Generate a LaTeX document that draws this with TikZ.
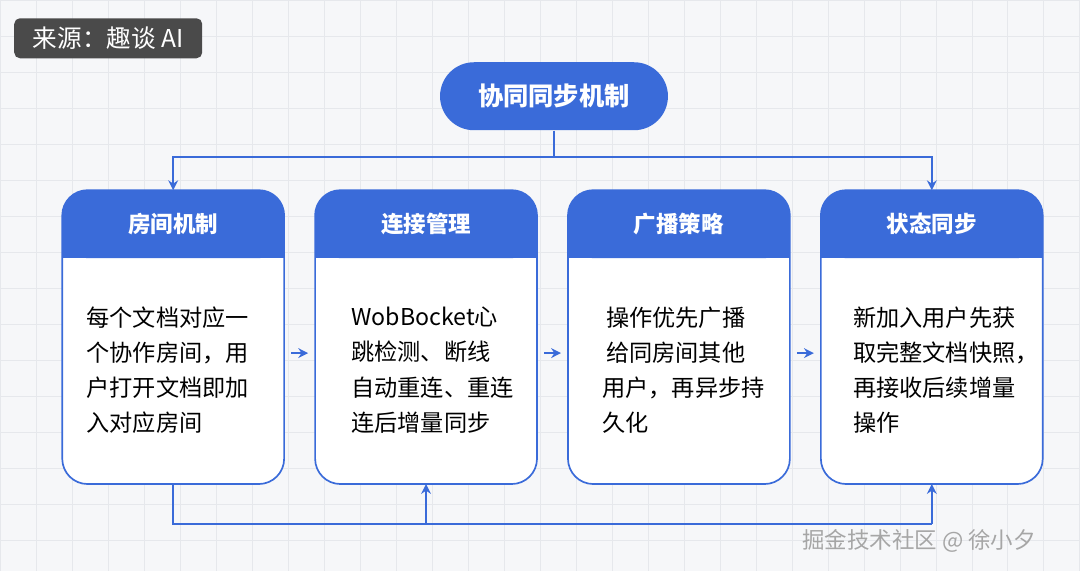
\documentclass[tikz,border=0pt]{standalone}
\usepackage{fontspec}
\setmainfont{Noto Sans CJK SC}
\usetikzlibrary{positioning, arrows.meta, calc}
\definecolor{mainblue}{HTML}{3A6BD9}
\definecolor{gridbg}{HTML}{F6F7F9}
\definecolor{gridline}{HTML}{E6E8EC}
\definecolor{tagdark}{HTML}{4A4A4A}
\begin{document}
\begin{tikzpicture}[
  x=0.025cm, y=-0.025cm,
  >=Stealth,
  every node/.style={inner sep=0pt},
  link/.style={draw=mainblue, line width=1.2pt},
  tip/.style={link, -{Stealth[length=7pt, width=7pt]}},
  body/.style={text=black, align=left, font=\fontsize{16.5}{25}\selectfont}
]
% background
\fill[gridbg] (0,0) rectangle (1080,571);
\foreach \g in {0,36,...,1080} \draw[gridline, line width=0.4pt] (\g,0) -- (\g,571);
\foreach \g in {0,36,...,571} \draw[gridline, line width=0.4pt] (0,\g) -- (1080,\g);
\useasboundingbox (0,0) rectangle (1080,571);

% source tag
\node[fill=tagdark, rounded corners=4pt, minimum width=4.7cm, minimum height=1cm, text=white,
  font=\fontsize{17.5}{19}\selectfont] (tag) at (108,38) {来源：趣谈 AI};

% root
\node[fill=mainblue, rounded corners=0.85cm, minimum width=5.7cm, minimum height=1.7cm, text=white,
  font=\fontsize{18}{20}\selectfont\bfseries] (root) at (554,96) {协同同步机制};

% boxes
\foreach \n/\cx/\title in {room/173/房间机制, conn/426/连接管理, cast/679/广播策略, state/932/状态同步}{
  \draw[mainblue, line width=1.2pt, fill=white, rounded corners=18pt]
    (\cx-111,190) rectangle (\cx+111,484);
  \fill[mainblue, rounded corners=18pt] (\cx-111,258) -- (\cx-111,190) -- (\cx+111,190) -- (\cx+111,258) -- cycle;
  \fill[mainblue] (\cx-111,235) rectangle (\cx+111,258);
  \node[text=white, font=\fontsize{16}{18}\selectfont\bfseries] (\n) at (\cx,224) {\title};
  \coordinate (\n-top) at (\cx,190);
  \coordinate (\n-bot) at (\cx,484);
  \coordinate (\n-w) at (\cx-111,353);
  \coordinate (\n-e) at (\cx+111,353);
}
\node[body, anchor=west] (roomtext) at (86,370) {每个文档对应一\\个协作房间，用\\户打开文档即加\\入对应房间};
\node[body, anchor=west] (conntext) at (351,370) {WobBocket心\\跳检测、断线\\自动重连、重连\\连后增量同步};
\node[body, anchor=west] (casttext) at (602,370) {\,操作优先广播\\\,给同房间其他\\用户，再异步持\\久化};
\node[body, anchor=west] (statetext) at (853,370) {新加入用户先获\\取完整文档快照，\\再接收后续增量\\操作};

% top distribution
\coordinate (split) at (554,157);
\draw[link] (root.south) -- (split);
\draw[tip] (split) -| (room-top);
\draw[tip] (split) -| (state-top);

% side arrows
\draw[tip] ($(room-e)+(7,0)$) -- ($(conn-w)+(-7,0)$);
\draw[tip] ($(conn-e)+(7,0)$) -- ($(cast-w)+(-7,0)$);
\draw[tip] ($(cast-e)+(7,0)$) -- ($(state-w)+(-7,0)$);

% bottom loop
\coordinate (loop) at (173,524);
\draw[link] (room-bot) -- (loop) -- (932,524);
\draw[tip] (426,524) -- (conn-bot);
\draw[tip] (932,524) -- (state-bot);

% watermark
\node[text=gray!70, font=\fontsize{16}{18}\selectfont, anchor=west] (mark) at (802,541) {掘金技术社区 @ 徐小夕};
\end{tikzpicture}
\end{document}
